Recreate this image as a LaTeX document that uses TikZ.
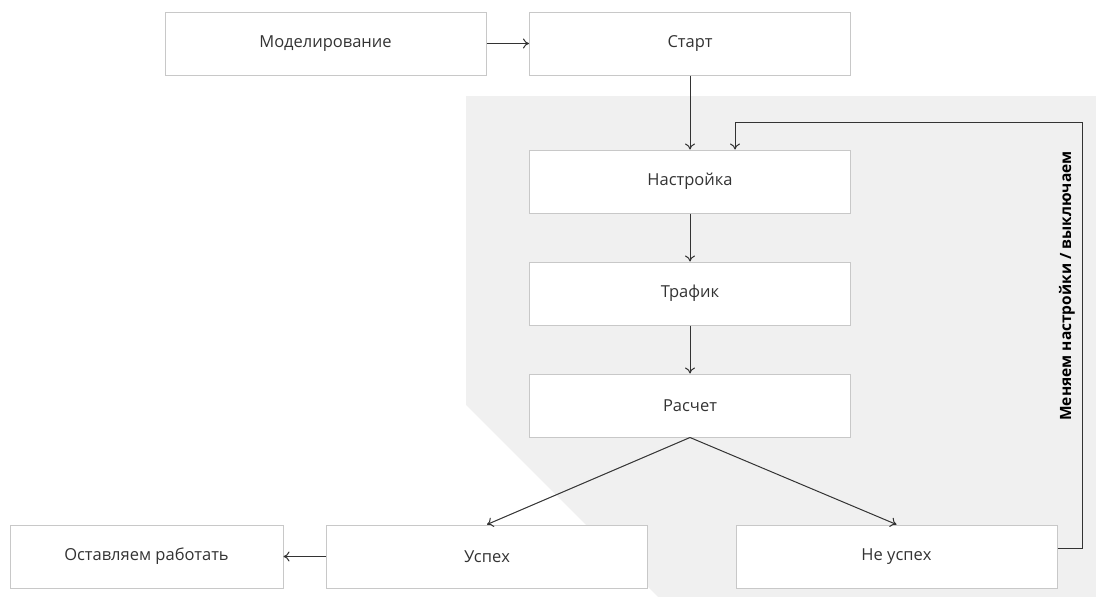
\documentclass[tikz,border=0pt]{standalone}
\usepackage{fontspec}
\setmainfont{Open Sans}
\usetikzlibrary{arrows.meta}
\definecolor{boxline}{HTML}{C8C8C8}
\definecolor{zone}{HTML}{F0F0F0}
\definecolor{ink}{HTML}{333333}
\tikzset{
  stepbox/.style={draw=boxline, line width=1pt, fill=white, minimum width=321pt, minimum height=63pt, inner sep=0pt, font=\fontsize{16.5}{19}\selectfont, text=ink},
  conn/.style={draw=ink, line width=1pt, -{To[length=6pt,width=10pt]}},
}
\begin{document}
\begin{tikzpicture}[x=1pt,y=-1pt]
\useasboundingbox (0,0) rectangle (1096,597);
\fill[zone] (466,96) -- (1096,96) -- (1096,597) -- (658,597) -- (466,405) -- cycle;
\node[stepbox] (model) at (325.5,43.5) {Моделирование};
\node[stepbox] (start) at (690,43.5) {Старт};
\node[stepbox] (tune) at (690,181.5) {Настройка};
\node[stepbox] (traffic) at (690,293.5) {Трафик};
\node[stepbox] (calc) at (690,405.5) {Расчет};
\node[stepbox] (ok) at (487,556.5) {Успех};
\node[stepbox, minimum width=273pt] (keep) at (146.5,556.5) {Оставляем работать};
\node[stepbox] (fail) at (896.5,556.5) {Не успех};
\draw[conn] (model) -- (start);
\draw[conn] (start) -- (tune);
\draw[conn] (tune) -- (traffic);
\draw[conn] (traffic) -- (calc);
\draw[conn] (calc.south) -- (ok.north);
\draw[conn] (calc.south) -- (fail.north);
\draw[conn] (ok) -- (keep);
\coordinate (c1) at (1082,548);
\coordinate (c2) at (1082,122);
\coordinate (c3) at (735,122);
\draw[conn] (fail.east |- c1) -- (c1) -- (c2) -- (c3) -- (c3 |- tune.north);
\node[rotate=90, font=\fontsize{15.5}{18}\selectfont\bfseries, text=black] (lbl) at (1067,286) {Меняем настройки / выключаем};
\end{tikzpicture}
\end{document}
